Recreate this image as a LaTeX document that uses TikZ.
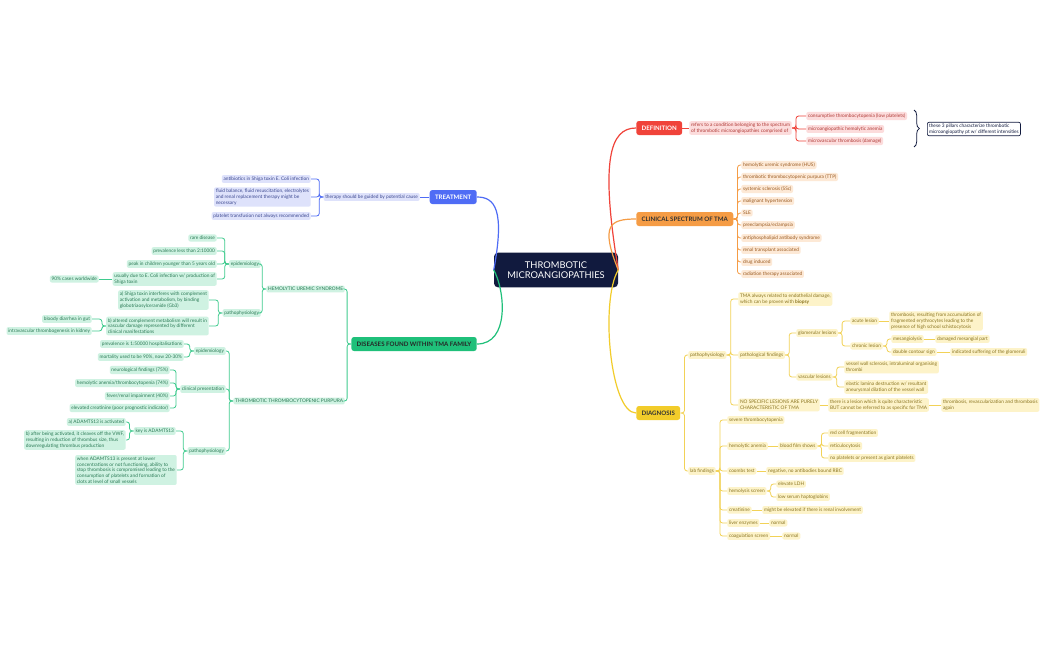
\documentclass[tikz,border=0pt]{standalone}
\usepackage{fontspec}
\setmainfont{Lato}
\usetikzlibrary{decorations.pathreplacing}
\definecolor{navy}{HTML}{111A3E}
\definecolor{cR}{HTML}{F0433A}\definecolor{fR}{HTML}{FCDCDC}\definecolor{tR}{HTML}{B03A36}
\definecolor{cO}{HTML}{F59C45}\definecolor{fO}{HTML}{FDE9D6}\definecolor{tO}{HTML}{9A5A20}
\definecolor{cY}{HTML}{F2CC2A}\definecolor{fY}{HTML}{FDF3C9}\definecolor{tY}{HTML}{8A7420}\definecolor{lY}{HTML}{F2D257}
\definecolor{cB}{HTML}{4F6CF5}\definecolor{fB}{HTML}{DEE2FB}\definecolor{tB}{HTML}{3C4890}
\definecolor{cG}{HTML}{1FC07A}\definecolor{fG}{HTML}{CFF2E2}\definecolor{tG}{HTML}{2A7A55}\definecolor{lG}{HTML}{3FCB8E}
\tikzset{
 x=0.75pt,y=-0.75pt,
 nb/.style={rounded corners=1.5pt,inner sep=1.3pt,font=\fontsize{3.6}{4.3}\selectfont,align=left},
 R/.style={nb,fill=fR,text=tR},O/.style={nb,fill=fO,text=tO},Y/.style={nb,fill=fY,text=tY},
 B/.style={nb,fill=fB,text=tB},G/.style={nb,fill=fG,text=tG},
 main/.style={rounded corners=2pt,minimum height=10.5pt,inner xsep=4pt,font=\fontsize{4.6}{5}\selectfont\bfseries},
 lc/.style={line width=0.6pt,rounded corners=2pt},
}
\newcommand\rc[3]{\draw[lc,#1] (#2.east) -- ([xshift=3pt]#2.east) |- (#3.west);}
\newcommand\lcn[3]{\draw[lc,#1] (#2.west) -- ([xshift=-3pt]#2.west) |- (#3.east);}
\begin{document}
\begin{tikzpicture}
\useasboundingbox (0,0) rectangle (1049,650);
\fill[white] (0,0) rectangle (1049,650);
% center
\node[fill=navy,text=white,rounded corners=3pt,minimum width=93pt,minimum height=26pt,align=center,font=\fontsize{7}{8}\selectfont] (C) at (556,270) {THROMBOTIC\\MICROANGIOPATHIES};
% DEFINITION
\node[main,fill=cR,text=white,anchor=west] (D) at (636,128) {DEFINITION};
\draw[lc,cR,line width=0.9pt] (C.east) .. controls (600,160) and (610,128) .. (D.west);
\node[R,anchor=west] (d1) at (689,128) {refers to a condition belonging to the spectrum\\of thrombotic microangiopathies comprised of};
\node[R,anchor=west] (d2) at (806,116) {consumptive thrombocytopenia (low platelets)};
\node[R,anchor=west] (d3) at (806,129) {microangiopathic hemolytic anemia};
\node[R,anchor=west] (d4) at (806,141) {microvascular thrombosis (damage)};
\draw[lc,cR] (D.east)--(d1.west);
\foreach \c in {d2,d3,d4}{\rc{cR}{d1}{\c}}
\draw[navy,line width=0.6pt,decorate,decoration={brace,amplitude=4pt}] (914,110) -- (914,147);
\node[nb,draw=navy,fill=white,text=navy,anchor=west,line width=0.5pt] (d5) at (927,129) {these 3 pillars characterize thrombotic\\microangiopathy pt w/ different intensities};
% CLINICAL
\node[main,fill=cO,text=black!80,anchor=west] (S) at (636,219) {CLINICAL SPECTRUM OF TMA};
\draw[lc,cO,line width=0.9pt] (C.east) .. controls (600,225) and (610,219) .. (S.west);
\foreach \t/\y [count=\i] in {{hemolytic uremic syndrome (HUS)}/165,{thrombotic thrombocytopenic purpura (TTP)}/177,{systemic sclerosis (SSc)}/189,{malignant hypertension}/201,{SLE}/213,{preeclampsia/eclampsia}/225,{antiphospholipid antibody syndrome}/238,{renal transplant associated}/250,{drug induced}/262,{radiation therapy associated}/274}{
 \node[O,anchor=west] (s\i) at (741,\y) {\t};
 \rc{cO}{S}{s\i}}
% DIAGNOSIS
\node[main,fill=cY,text=black!80,anchor=west] (G) at (636,413) {DIAGNOSIS};
\draw[lc,cY,line width=0.9pt] (C.east) .. controls (600,300) and (610,413) .. (G.west);
\node[Y,anchor=west] (p) at (688,355) {pathophysiology};
\node[Y,anchor=west] (lab) at (688,471) {lab findings};
\rc{lY}{G}{p}\rc{lY}{G}{lab}
\node[Y,anchor=west] (p1) at (738,299) {TMA always related to endothelial damage,\\which can be proven with \textbf{biopsy}};
\node[Y,anchor=west] (p2) at (738,355) {pathological findings};
\node[Y,anchor=west] (p3) at (738,405) {NO SPECIFIC LESIONS ARE PURELY\\CHARACTERISTIC OF TMA};
\foreach \c in {p1,p2,p3}{\rc{lY}{p}{\c}}
\node[Y,anchor=west] (gl) at (796,333) {glomerular lesions};
\node[Y,anchor=west] (vl) at (796,377) {vascular lesions};
\rc{lY}{p2}{gl}\rc{lY}{p2}{vl}
\node[Y,anchor=west] (al) at (850,321) {acute lesion};
\node[Y,anchor=west] (cl) at (850,346) {chronic lesion};
\rc{lY}{gl}{al}\rc{lY}{gl}{cl}
\node[Y,anchor=west] (al1) at (889,321) {thrombosis, resulting from accumulation of\\fragmented erythrocytes leading to the\\presence of high school schistocytosis};
\draw[lc,lY] (al.east)--(al1.west);
\node[Y,anchor=west] (m1) at (891,339) {mesangiolysis};
\node[Y,anchor=west] (m2) at (891,352) {double contour sign};
\rc{lY}{cl}{m1}\rc{lY}{cl}{m2}
\node[Y,anchor=west] (m3) at (935,339) {damaged mesangial part};
\node[Y,anchor=west] (m4) at (950,352) {indicated suffering of the glomeruli};
\draw[lc,lY] (m1.east)--(m3.west);\draw[lc,lY] (m2.east)--(m4.west);
\node[Y,anchor=west] (v1) at (844,367) {vessel wall sclerosis, intraluminal organising\\thrombi};
\node[Y,anchor=west] (v2) at (844,387) {elastic lamina destruction w/ resultant\\aneurysmal dilation of the vessel wall};
\rc{lY}{vl}{v1}\rc{lY}{vl}{v2}
\node[Y,anchor=west] (n1) at (828,405) {there is a lesion which is quite characteristic\\BUT cannot be referred to as specific for TMA};
\node[Y,anchor=west] (n2) at (941,405) {thrombosis, revascularization and thrombosis\\again};
\draw[lc,lY] (p3.east)--(n1.west);\draw[lc,lY] (n1.east)--(n2.west);
\node[Y,anchor=west] (l1) at (727,420) {severe thrombocytopenia};
\node[Y,anchor=west] (l2) at (727,446) {hemolytic anemia};
\node[Y,anchor=west] (l3) at (727,471) {coombs test};
\node[Y,anchor=west] (l4) at (727,491) {hemolysis screen};
\node[Y,anchor=west] (l5) at (727,510) {creatinine};
\node[Y,anchor=west] (l6) at (727,523) {liver enzymes};
\node[Y,anchor=west] (l7) at (727,536) {coagulation screen};
\foreach \c in {l1,l2,l3,l4,l5,l6,l7}{\rc{lY}{lab}{\c}}
\node[Y,anchor=west] (bf) at (778,446) {blood film shows};
\draw[lc,lY] (l2.east)--(bf.west);
\node[Y,anchor=west] (b1) at (828,433) {red cell fragmentation};
\node[Y,anchor=west] (b2) at (828,446) {reticulocytosis};
\node[Y,anchor=west] (b3) at (828,458) {no platelets or present as giant platelets};
\foreach \c in {b1,b2,b3}{\rc{lY}{bf}{\c}}
\node[Y,anchor=west] (c1) at (766,471) {negative, no antibodies bound RBC};
\draw[lc,lY] (l3.east)--(c1.west);
\node[Y,anchor=west] (h1) at (776,484) {elevate LDH};
\node[Y,anchor=west] (h2) at (776,497) {low serum haptoglobins};
\rc{lY}{l4}{h1}\rc{lY}{l4}{h2}
\node[Y,anchor=west] (e1) at (762,510) {might be elevated if there is renal involvement};
\node[Y,anchor=west] (e2) at (769,523) {normal};
\node[Y,anchor=west] (e3) at (782,536) {normal};
\draw[lc,lY] (l5.east)--(e1.west);\draw[lc,lY] (l6.east)--(e2.west);\draw[lc,lY] (l7.east)--(e3.west);
% TREATMENT
\node[main,fill=cB,text=white,anchor=east] (T) at (477,197) {TREATMENT};
\draw[lc,cB,line width=0.9pt] (C.west) .. controls (505,210) and (495,197) .. (T.east);
\node[B,anchor=east] (t0) at (420,197) {therapy should be guided by potential cause};
\draw[lc,cB] (T.west)--(t0.east);
\node[B,anchor=east] (t1) at (311,179) {antibiotics in Shiga toxin E. Coli infection};
\node[B,anchor=east] (t2) at (311,197) {fluid balance, fluid resuscitation, electrolytes\\and renal replacement therapy might be\\necessary};
\node[B,anchor=east] (t3) at (311,216) {platelet transfusion not always recommended};
\foreach \c in {t1,t2,t3}{\lcn{cB}{t0}{\c}}
% DISEASES
\node[main,fill=cG,text=black!85,anchor=east] (F) at (477,344) {DISEASES FOUND WITHIN TMA FAMILY};
\draw[lc,cG,line width=0.9pt] (C.west) .. controls (505,290) and (510,344) .. (F.east);
\node[G,anchor=east] (H) at (345,289) {HEMOLYTIC UREMIC SYNDROME};
\node[G,anchor=east] (P) at (345,401) {THROMBOTIC THROMBOCYTOPENIC PURPURA};
\lcn{lG}{F}{H}\lcn{lG}{F}{P}
\node[G,anchor=east] (he) at (261,264) {epidemiology};
\node[G,anchor=east] (hp) at (261,313) {pathophysiology};
\lcn{lG}{H}{he}\lcn{lG}{H}{hp}
\node[G,anchor=east] (e1) at (217,238) {rare disease};
\node[G,anchor=east] (e2) at (217,251) {prevalence less than 2:10000};
\node[G,anchor=east] (e3) at (217,264) {peak in children younger than 5 years old};
\node[G,anchor=east] (e4) at (217,279) {usually due to E. Coli infection w/ production of\\Shiga toxin};
\foreach \c in {e1,e2,e3,e4}{\lcn{lG}{he}{\c}}
\node[G,anchor=east] (e5) at (99,279) {90\% cases worldwide};
\draw[lc,lG] (e4.west)--(e5.east);
\node[G,anchor=east] (hp1) at (209,300) {a) Shiga toxin interferes with complement\\activation and metabolism, by binding\\globotriaosylceramide (Gb3)};
\node[G,anchor=east] (hp2) at (209,326) {b) altered complement metabolism will result in\\vascular damage represented by different\\clinical manifestations};
\lcn{lG}{hp}{hp1}\lcn{lG}{hp}{hp2}
\node[G,anchor=east] (hp3) at (92,319) {bloody diarrhea in gut};
\node[G,anchor=east] (hp4) at (92,331) {intravascular thrombogenesis in kidney};
\lcn{lG}{hp2}{hp3}\lcn{lG}{hp2}{hp4}
\node[G,anchor=east] (te) at (226,351) {epidemiology};
\node[G,anchor=east] (tc) at (226,389) {clinical presentation};
\node[G,anchor=east] (tp) at (226,451) {pathophysiology};
\foreach \c in {te,tc,tp}{\lcn{lG}{P}{\c}}
\node[G,anchor=east] (te1) at (184,344) {prevalence is 1:50000 hospitalisations};
\node[G,anchor=east] (te2) at (184,357) {mortality used to be 90\%, now 20-30\%};
\lcn{lG}{te}{te1}\lcn{lG}{te}{te2}
\node[G,anchor=east] (tc1) at (170,370) {neurological findings (75\%)};
\node[G,anchor=east] (tc2) at (170,383) {hemolytic anemia/thrombocytopenia (74\%)};
\node[G,anchor=east] (tc3) at (170,396) {fever/renal impairment (40\%)};
\node[G,anchor=east] (tc4) at (170,408) {elevated creatinine (poor prognostic indicator)};
\foreach \c in {tc1,tc2,tc3,tc4}{\lcn{lG}{tc}{\c}}
\node[G,anchor=east] (tk) at (176,431) {key is ADAMTS13};
\node[G,anchor=east] (tw) at (177,470) {when ADAMTS13 is present at lower\\concentrations or not functioning, ability to\\stop thrombosis is compromised leading to the\\consumption of platelets and formation of\\clots at level of small vessels};
\lcn{lG}{tp}{tk}\lcn{lG}{tp}{tw}
\node[G,anchor=east] (tk1) at (126,422) {a) ADAMTS13 is activated};
\node[G,anchor=east] (tk2) at (126,440) {b) after being activated, it cleaves off the VWF,\\resulting in reduction of thrombus size, thus\\downregulating thrombus production};
\lcn{lG}{tk}{tk1}\lcn{lG}{tk}{tk2}
\end{tikzpicture}
\end{document}
